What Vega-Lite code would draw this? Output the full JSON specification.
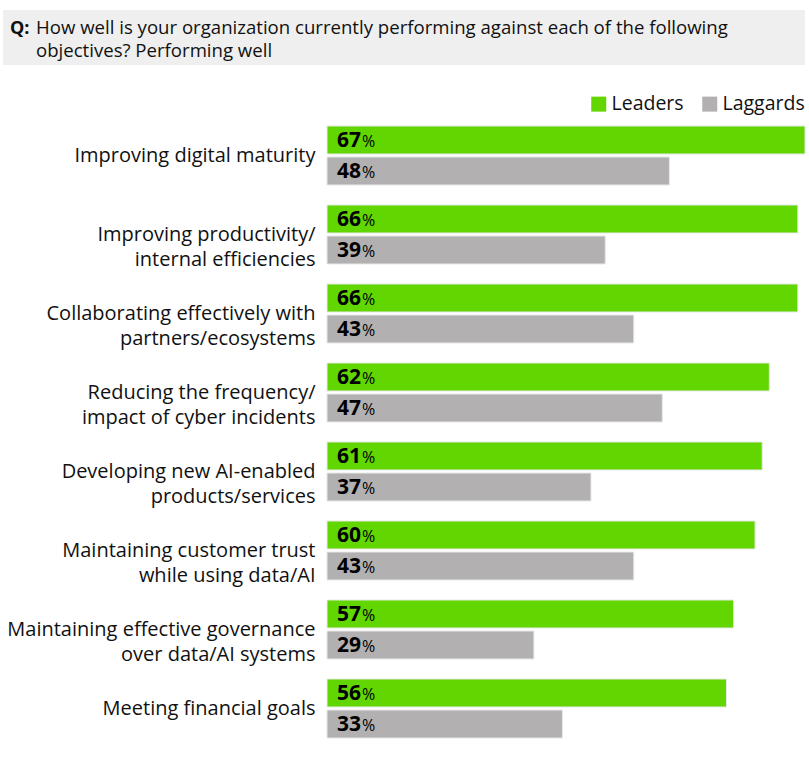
{
  "$schema": "https://vega.github.io/schema/vega-lite/v6.json",
  "background": "white",
  "padding": {"left": 3, "top": 10, "right": 0, "bottom": 0},
  "config": {"view": {"stroke": null}, "font": "Open Sans"},
  "spacing": 29,
  "resolve": {"legend": {"color": "independent"}},
  "vconcat": [
    {
      "width": 802,
      "height": 55,
      "view": {"fill": "#efefef", "stroke": null},
      "data": {"values": [{"q": "Q:", "line": "How well is your organization currently performing against each of the following|objectives? Performing well"}]},
      "transform": [{"calculate": "split(datum.line, '|')", "as": "lines"}],
      "layer": [
        {
          "mark": {"type": "text", "align": "left", "baseline": "alphabetic", "fontWeight": "bold", "fontSize": 18, "font": "Open Sans", "color": "#111"},
          "encoding": {"text": {"field": "q"}, "x": {"value": 7}, "y": {"value": 24}}
        },
        {
          "mark": {"type": "text", "align": "left", "baseline": "alphabetic", "fontSize": 18.6, "lineHeight": 23, "font": "Open Sans", "color": "#111"},
          "encoding": {"text": {"field": "lines"}, "x": {"value": 33}, "y": {"value": 24}}
        }
      ]
    },
    {
      "width": 802,
      "height": 632,
      "data": {"values": [
        {"cat": "Improving digital maturity", "series": "Leaders", "value": 67},
        {"cat": "Improving digital maturity", "series": "Laggards", "value": 48},
        {"cat": "Improving productivity/|internal efficiencies", "series": "Leaders", "value": 66},
        {"cat": "Improving productivity/|internal efficiencies", "series": "Laggards", "value": 39},
        {"cat": "Collaborating effectively with|partners/ecosystems", "series": "Leaders", "value": 66},
        {"cat": "Collaborating effectively with|partners/ecosystems", "series": "Laggards", "value": 43},
        {"cat": "Reducing the frequency/|impact of cyber incidents", "series": "Leaders", "value": 62},
        {"cat": "Reducing the frequency/|impact of cyber incidents", "series": "Laggards", "value": 47},
        {"cat": "Developing new AI-enabled|products/services", "series": "Leaders", "value": 61},
        {"cat": "Developing new AI-enabled|products/services", "series": "Laggards", "value": 37},
        {"cat": "Maintaining customer trust|while using data/AI", "series": "Leaders", "value": 60},
        {"cat": "Maintaining customer trust|while using data/AI", "series": "Laggards", "value": 43},
        {"cat": "Maintaining effective governance|over data/AI systems", "series": "Leaders", "value": 57},
        {"cat": "Maintaining effective governance|over data/AI systems", "series": "Laggards", "value": 29},
        {"cat": "Meeting financial goals", "series": "Leaders", "value": 56},
        {"cat": "Meeting financial goals", "series": "Laggards", "value": 33}
      ]},
      "encoding": {
        "y": {
          "field": "cat", "type": "nominal", "sort": null,
          "scale": {"paddingInner": 0.253, "paddingOuter": 0.1265},
          "axis": {"title": null, "offset": -324, "domain": false, "ticks": false, "labelPadding": 12, "labelFontSize": 20, "labelFont": "Open Sans", "labelColor": "#111", "labelLineHeight": 25, "labelExpr": "split(datum.label, '|')", "labelLimit": 400}
        },
        "yOffset": {"field": "series", "type": "nominal", "sort": ["Leaders", "Laggards"], "scale": {"paddingInner": 0.097, "paddingOuter": 0}},
        "x": {"field": "value", "type": "quantitative", "scale": {"domain": [-45.42, 67], "nice": false, "zero": false}, "axis": null}
      },
      "layer": [
        {
          "mark": {"type": "bar", "stroke": "#e8e8e8", "strokeWidth": 1},
          "encoding": {
            "x2": {"datum": 0},
            "color": {
              "field": "series", "type": "nominal",
              "scale": {"domain": ["Leaders", "Laggards"], "range": ["#62d600", "#b2b0b0"]},
              "legend": {"title": null, "orient": "none", "legendX": 586, "legendY": -22, "direction": "horizontal", "symbolType": "square", "symbolSize": 225, "symbolStrokeWidth": 0, "labelFontSize": 19.5, "labelFont": "Open Sans", "labelColor": "#111", "columnPadding": 16, "labelOffset": 3}
            }
          }
        },
        {
          "mark": {"type": "text", "align": "left", "baseline": "middle", "dx": 10, "dy": 1, "fontWeight": "bold", "fontSize": 21, "font": "Open Sans", "color": "#000"},
          "encoding": {"x": {"datum": 0}, "text": {"field": "value", "type": "quantitative"}}
        },
        {
          "mark": {"type": "text", "align": "left", "baseline": "middle", "dx": 35, "dy": 2, "fontSize": 16, "font": "Open Sans", "color": "#000"},
          "encoding": {"x": {"datum": 0}, "text": {"value": "%"}}
        }
      ]
    }
  ]
}
